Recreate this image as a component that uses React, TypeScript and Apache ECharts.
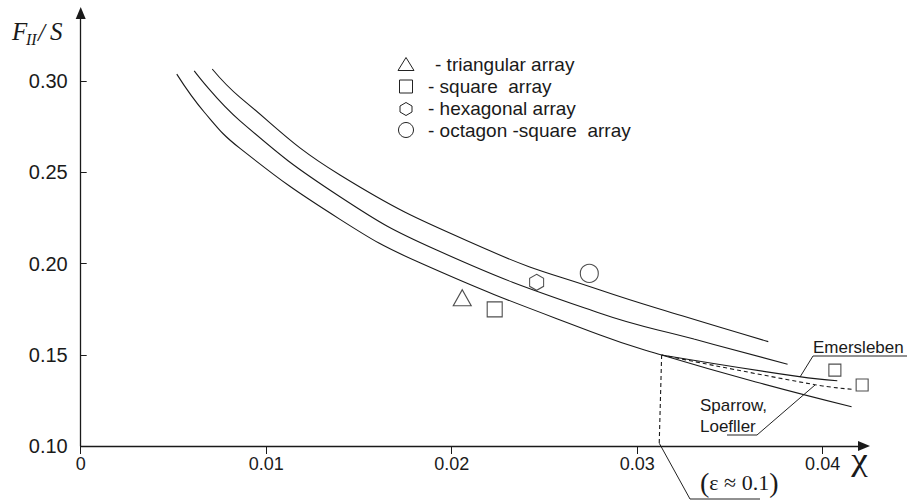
import React, { useEffect, useRef } from "react";
import * as echarts from "echarts";

const xTicks = [0, 0.01, 0.02, 0.03, 0.04];
const yTicks = [0.1, 0.15, 0.2, 0.25, 0.3];

const curveLow = [
  [0.00518, 0.3038], [0.0067, 0.2825], [0.00859, 0.2631], [0.01398, 0.2242],
  [0.01829, 0.2004], [0.028, 0.1608], [0.03132, 0.1499], [0.0364, 0.1351],
  [0.04156, 0.1215],
];
const curveMid = [
  [0.00612, 0.3056], [0.00859, 0.2782], [0.01398, 0.2366], [0.01919, 0.2074],
  [0.028, 0.1727], [0.03306, 0.1586], [0.03811, 0.1448],
];
const curveHigh = [
  [0.00709, 0.3066], [0.00859, 0.2911], [0.01398, 0.2485], [0.02197, 0.2074],
  [0.028, 0.1855], [0.03247, 0.1712], [0.03707, 0.1572],
];
const emerslebenBranch = [[0.03132, 0.1499], [0.03874, 0.138], [0.04079, 0.1358]];
const sparrowBranch = [[0.03132, 0.1499], [0.03958, 0.1336], [0.04156, 0.1311]];
const epsilonMarker = [[0.03132, 0.1499], [0.03119, 0.1015]];

const triangularPts = [[0.02057, 0.1813]];
const squarePts = [[0.02232, 0.1749], [0.04066, 0.1416], [0.04213, 0.1334]];
const hexagonalPts = [[0.02458, 0.1897]];
const octagonPts = [[0.02742, 0.1946]];

const legendLabels = [
  "- triangular array",
  "- square  array",
  "- hexagonal array",
  "- octagon -square  array",
];

const INK = "#1a1a1a";
const SANS = "Liberation Sans, Arial, sans-serif";
const SERIF = "Liberation Serif, Times New Roman, serif";
const HEX = "path://M7,0 L14,4 L14,12 L7,16 L0,12 L0,4 Z";

function txt(text: string, x: number, y: number, font: string, size: number, extra: any = {}, el: any = {}) {
  return {
    type: "text",
    x,
    y,
    silent: true,
    ...el,
    style: {
      text,
      fontFamily: font,
      fontSize: size,
      fill: INK,
      textAlign: "left",
      textVerticalAlign: "middle",
      align: "left",
      verticalAlign: "middle",
      whiteSpace: "pre",
      ...extra,
    },
  };
}

export default function App() {
  const ref = useRef<HTMLDivElement>(null);
  useEffect(() => {
    if (!ref.current) return;
    const chart = echarts.init(ref.current, undefined, { renderer: "svg" });
    const lineBase = (name: string, data: number[][], dashed = false) => ({
      name,
      type: "line",
      data,
      smooth: 0.45,
      showSymbol: false,
      symbol: "none",
      clip: false,
      silent: true,
      lineStyle: { color: INK, width: 1.1, type: dashed ? [4, 3] : "solid" },
    });
    const scatterBase = (name: string, data: any[], symbol: string, size: any) => ({
      name,
      type: "scatter",
      data,
      symbol,
      symbolSize: size,
      silent: true,
      itemStyle: { color: "#ffffff", borderColor: "#222", borderWidth: 1.1 },
    });
    const stroke = { stroke: "#222", lineWidth: 1, fill: "none" };
    chart.setOption({
      animation: false,
      backgroundColor: "#ffffff",
      grid: { left: 80.7, right: 43, top: 13, bottom: 55, containLabel: false },
      xAxis: {
        type: "value",
        min: 0,
        max: 0.04223,
        interval: 0.01,
        splitLine: { show: false },
        axisLine: {
          show: true,
          onZero: false,
          symbol: ["none", "triangle"],
          symbolSize: [10, 12],
          lineStyle: { color: INK, width: 1.3 },
        },
        axisTick: { show: true, length: 8, customValues: xTicks, lineStyle: { color: INK } },
        axisLabel: {
          customValues: xTicks,
          margin: 9,
          color: INK,
          fontFamily: SANS,
          fontSize: 18,
          formatter: (v: number) => (v === 0 ? "0" : v.toFixed(2)),
        },
      },
      yAxis: {
        type: "value",
        min: 0.1,
        max: 0.3373,
        interval: 0.05,
        splitLine: { show: false },
        axisLine: {
          show: true,
          onZero: false,
          symbol: ["none", "triangle"],
          symbolSize: [10, 12],
          lineStyle: { color: INK, width: 1.3 },
        },
        axisTick: { show: true, inside: true, length: 6, customValues: yTicks, lineStyle: { color: INK } },
        axisLabel: {
          customValues: yTicks,
          margin: 13,
          color: INK,
          fontFamily: SANS,
          fontSize: 20,
          formatter: (v: number) => v.toFixed(2),
        },
      },
      series: [
        lineBase("curveLow", curveLow),
        lineBase("curveMid", curveMid),
        lineBase("curveHigh", curveHigh),
        lineBase("Emersleben", emerslebenBranch),
        lineBase("Sparrow, Loefller", sparrowBranch, true),
        { ...lineBase("epsilon", epsilonMarker, true), smooth: false },
        scatterBase("triangular array", triangularPts, "triangle", [18, 16]),
        scatterBase(
          "square array",
          squarePts.map((p, i) => ({ value: p, symbolSize: i === 0 ? 15 : 12 })),
          "rect",
          15
        ),
        scatterBase("hexagonal array", hexagonalPts, HEX, [14, 16]),
        scatterBase("octagon-square array", octagonPts, "circle", 18),
      ],
      graphic: [
        // legend
        { type: "polygon", silent: true, shape: { points: [[398, 70.5], [414, 70.5], [406, 57.5]] }, style: stroke },
        { type: "rect", silent: true, shape: { x: 399.5, y: 80, width: 13, height: 13 }, style: stroke },
        {
          type: "polygon",
          silent: true,
          shape: { points: [[406, 102.5], [412, 106], [412, 112], [406, 115.5], [400, 112], [400, 106]] },
          style: stroke,
        },
        { type: "circle", silent: true, shape: { cx: 406, cy: 130, r: 7.5 }, style: stroke },
        txt(legendLabels[0], 435, 64, SANS, 19),
        txt(legendLabels[1], 428, 86, SANS, 19),
        txt(legendLabels[2], 428, 108, SANS, 19),
        txt(legendLabels[3], 428, 130, SANS, 19),
        // y axis name F_II / S
        txt("F", 12, 31, SERIF, 25, { fontStyle: "italic" }),
        txt("II", 26, 39, SERIF, 16, { fontStyle: "italic" }),
        txt("/", 38, 32, SERIF, 25, { fontStyle: "italic" }),
        txt("S", 50, 31, SERIF, 25, { fontStyle: "italic" }),
        // x axis name
        txt("χ", 859.5, 459, SERIF, 31, { textAlign: "center", align: "center" }, { scaleX: 1.2 }),
        // Emersleben annotation
        txt("Emersleben", 813, 347, SANS, 17),
        { type: "polyline", silent: true, shape: { points: [[800, 377], [813, 356], [907, 356]] }, style: stroke },
        // Sparrow, Loefller annotation
        txt("Sparrow,", 700, 405, SANS, 17),
        txt("Loefller", 700, 426, SANS, 17),
        { type: "polyline", silent: true, shape: { points: [[727, 435], [757, 435], [815, 385]] }, style: stroke },
        // epsilon annotation
        {
          type: "text",
          x: 700,
          y: 482,
          silent: true,
          style: {
            text: "{p|(}{t|ε ≈ 0.1}{p|)}",
            fill: INK,
            textAlign: "left",
            textVerticalAlign: "middle",
            align: "left",
            verticalAlign: "middle",
            rich: {
              p: { fontFamily: SERIF, fontSize: 28, fill: INK, verticalAlign: "middle" },
              t: { fontFamily: SERIF, fontSize: 22, fill: INK, verticalAlign: "middle" },
            },
          },
        },
        { type: "polyline", silent: true, shape: { points: [[659.3, 443.3], [690, 499], [760, 499]] }, style: stroke },
      ],
    });
    return () => chart.dispose();
  }, []);
  return (
    <div
      ref={ref}
      style={{ position: "absolute", left: 0, top: 0, width: 907, height: 501, background: "#fff" }}
    />
  );
}
